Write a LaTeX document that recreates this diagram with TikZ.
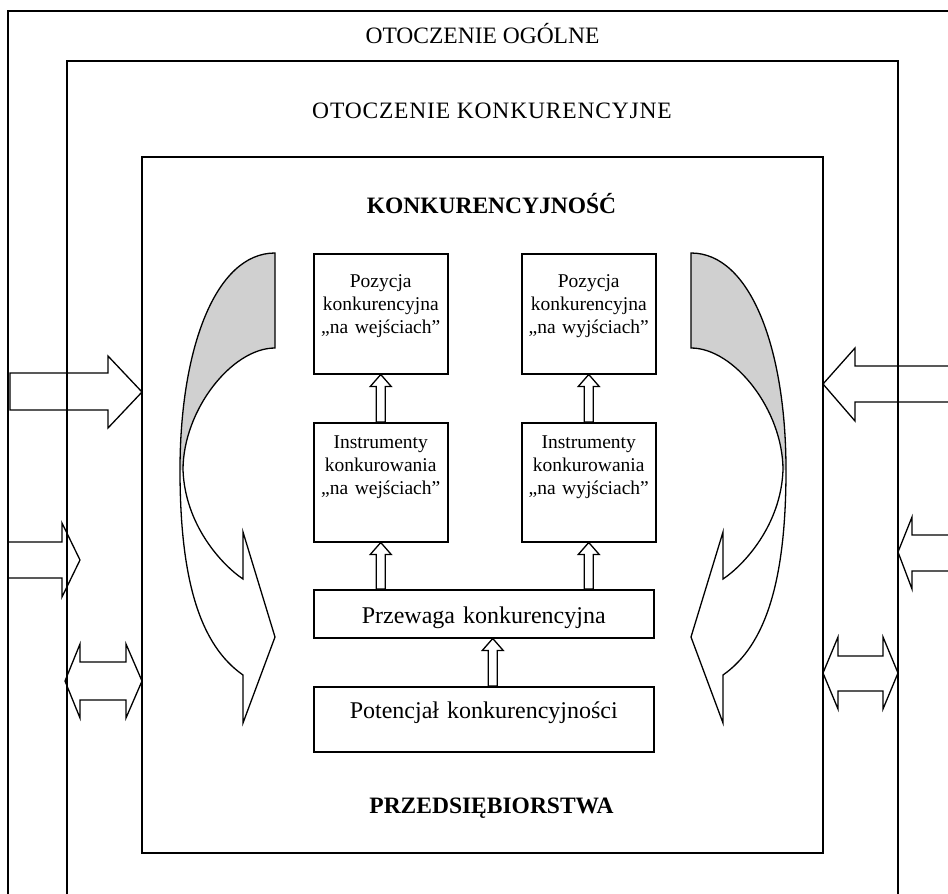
\documentclass[tikz,border=0pt]{standalone}
\usepackage{fontspec}
\setmainfont{Liberation Serif}
\usetikzlibrary{calc}
\definecolor{shadegray}{HTML}{D0D0D0}
\tikzset{
  envframe/.style={draw, line width=1.8pt},
  envlabel/.style={anchor=base, font=\fontsize{23.5}{28}\selectfont},
  keylabel/.style={anchor=base, font=\fontsize{23.5}{28}\selectfont\bfseries},
  smallbox/.style={
    draw, line width=1.5pt, anchor=north west, text width=134pt, align=center,
    inner xsep=0pt, inner ysep=0pt, font=\fontsize{19.5}{23}\selectfont
  },
  widebox/.style={
    draw, line width=1.5pt, anchor=north west, text width=340pt, align=center,
    inner xsep=0pt, inner ysep=0pt, font=\fontsize{24}{28}\selectfont
  },
  blockarrow/.style={draw, line width=1.3pt, line join=miter}
}
% hollow up arrow from lower node #1 to upper node #2, shifted by #3
\newcommand{\feedarrow}[3]{
  \draw[blockarrow]
    ($(#2.south |- #1.north)+(#3-4.5,0)$) -- ($(#2.south)+(#3-4.5,12)$)
    -- ($(#2.south)+(#3-10.5,12)$) -- ($(#2.south)+(#3,0)$)
    -- ($(#2.south)+(#3+10.5,12)$) -- ($(#2.south)+(#3+4.5,12)$)
    -- ($(#2.south |- #1.north)+(#3+4.5,0)$) -- cycle;
}
% twisted curved arrow, left-hand version
\newcommand{\twistarrow}{
  \fill[shadegray] (275,253) .. controls (215,253) and (180,350) .. (180,470)
    -- (183,470) .. controls (183,410) and (232,348) .. (275,348) -- cycle;
  \draw[blockarrow] (275,348) -- (275,253)
    .. controls (215,253) and (180,350) .. (180,470)
    .. controls (180,580) and (200,645) .. (243,675)
    -- (243,723) -- (275,637) -- (243,532) -- (243,579)
    .. controls (222,565) and (185,525) .. (183,470)
    .. controls (183,410) and (232,348) .. (275,348) -- cycle;
}

\begin{document}
\begin{tikzpicture}[x=1pt, y=-1pt]
\useasboundingbox (0,0) rectangle (948,894);
\clip (0,0) rectangle (948,894);
% frames
\draw[envframe, line width=2.2pt] (8,11) rectangle (970,910);
\draw[envframe] (67,61) rectangle (898,910);
\draw[envframe] (142,157) rectangle (823,853);
\node[envlabel] (general) at (482.5,43) {OTOCZENIE OGÓLNE};
\node[envlabel] (rivals) at (492,118) {\addfontfeatures{LetterSpace=3.5}OTOCZENIE KONKURENCYJNE};
\node[keylabel] (ktitle) at (491.5,213) {KONKURENCYJNOŚĆ};
\node[keylabel] (ptitle) at (491.5,813) {PRZEDSIĘBIORSTWA};
% boxes
\node[smallbox, text height=34pt, text depth=86pt] (posin) at (313,253) {Pozycja\\konkurencyjna\\„na wejściach”};
\node[smallbox, text height=34pt, text depth=86pt] (posout) at (521,253) {Pozycja\\konkurencyjna\\„na wyjściach”};
\node[smallbox, text height=26pt, text depth=93pt] (toolin) at (313,422) {Instrumenty\\konkurowania\\„na wejściach”};
\node[smallbox, text height=26pt, text depth=93pt] (toolout) at (521,422) {Instrumenty\\konkurowania\\„na wyjściach”};
\node[widebox, text height=34pt, text depth=14pt] (advantage) at (313,589) {Przewaga konkurencyjna};
\node[widebox, text height=32pt, text depth=33pt] (potential) at (313,686) {Potencjał konkurencyjności};
\feedarrow{toolin}{posin}{0}
\feedarrow{toolout}{posout}{0}
\feedarrow{advantage}{toolin}{0}
\feedarrow{advantage}{toolout}{0}
\feedarrow{potential}{advantage}{9}
% curved arrows
\twistarrow
\begin{scope}[shift={(966,0)}, xscale=-1]
  \twistarrow
\end{scope}
% side arrows, left
\draw[blockarrow] (10,373) -- (108,373) -- (108,356) -- (142,392) -- (108,428) -- (108,410) -- (10,410) -- cycle;
\draw[blockarrow] (8,542) -- (62,542) -- (62,523) -- (80,560) -- (62,597) -- (62,578) -- (8,578) -- cycle;
\draw[blockarrow] (65,681) -- (80,644) -- (80,662) -- (126,662) -- (126,644) -- (142,681)
  -- (126,718) -- (126,700) -- (80,700) -- (80,718) -- cycle;
% side arrows, right
\draw[blockarrow] (960,366) -- (855,366) -- (855,348) -- (823,384) -- (855,421) -- (855,402) -- (960,402) -- cycle;
\draw[blockarrow] (960,535) -- (912,535) -- (912,517) -- (898,552) -- (912,589) -- (912,571) -- (960,571) -- cycle;
\draw[blockarrow] (823,673) -- (838,637) -- (838,656) -- (883,656) -- (883,637) -- (898,673)
  -- (883,709) -- (883,691) -- (838,691) -- (838,709) -- cycle;
\end{tikzpicture}
\end{document}
